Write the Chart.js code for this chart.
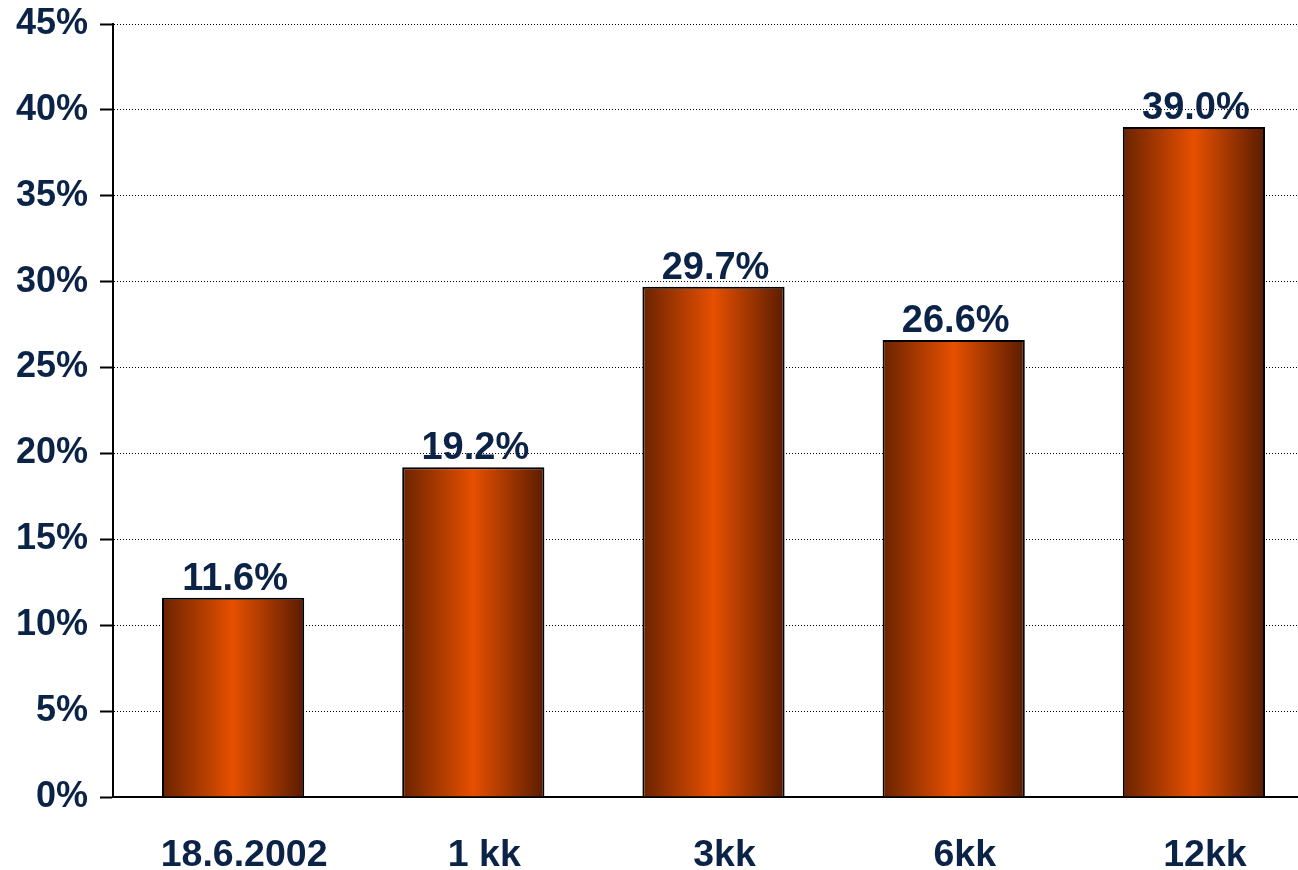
<!DOCTYPE html>
<html>
<head>
<meta charset="utf-8">
<script src="https://cdn.jsdelivr.net/npm/chart.js@4"></script>
<style>
  html, body { margin: 0; padding: 0; background: #fff; overflow: hidden; }
  #wrap { width: 1314px; height: 870px; }
</style>
</head>
<body>
<div id="wrap"><canvas id="c" width="1314" height="870"></canvas></div>
<script>
const categories = ['18.6.2002', '1 kk', '3kk', '6kk', '12kk'];
const values = [11.6, 19.2, 29.7, 26.6, 39.0];
const yTicks = [0, 5, 10, 15, 20, 25, 30, 35, 40, 45];

const NAVY = '#0b2346';
const FONT = "'Liberation Sans', Arial, sans-serif";
const BAR_PCT = 0.592;

function barGradient(ctx) {
  const chart = ctx.chart;
  const xs = chart.scales && chart.scales.x;
  if (!xs || !chart.chartArea) return '#e04e00';
  const cx = xs.getPixelForValue(ctx.dataIndex);
  const w = xs.width / categories.length * BAR_PCT;
  const g = chart.ctx.createLinearGradient(cx - w / 2, 0, cx + w / 2, 0);
  g.addColorStop(0, '#6a2300');
  g.addColorStop(0.5, '#e65000');
  g.addColorStop(1, '#5a1c00');
  return g;
}

const valueLabels = {
  id: 'valueLabels',
  afterDatasetsDraw(chart) {
    const c = chart.ctx;
    const meta = chart.getDatasetMeta(0);
    c.save();
    c.font = "bold 38px " + FONT;
    c.fillStyle = NAVY;
    c.textAlign = 'center';
    c.textBaseline = 'alphabetic';
    meta.data.forEach((bar, i) => {
      c.fillText(values[i].toFixed(1) + '%', bar.x + 2, bar.y - 8);
    });
    c.restore();
  }
};

new Chart(document.getElementById('c'), {
  type: 'bar',
  data: {
    labels: categories,
    datasets: [{
      data: values,
      backgroundColor: barGradient,
      borderColor: '#000',
      borderWidth: 2,
      barPercentage: BAR_PCT,
      categoryPercentage: 1
    }]
  },
  options: {
    responsive: false,
    animation: false,
    devicePixelRatio: 1,
    layout: { padding: { left: 0, top: 0, right: 0, bottom: 0 } },
    plugins: { legend: { display: false }, tooltip: { enabled: false } },
    scales: {
      x: {
        grid: { display: false, drawTicks: false },
        border: { display: true, color: '#000', width: 2 },
        afterFit(scale) { scale.height = 73; scale.paddingLeft = 0; scale.paddingRight = 0; },
        ticks: {
          color: NAVY,
          padding: 40,
          maxRotation: 0,
          labelOffset: 11,
          font: { family: FONT, size: 37.5, weight: 'bold', lineHeight: 1 }
        }
      },
      y: {
        min: 0,
        max: 45,
        afterBuildTicks(scale) { scale.ticks = yTicks.map(v => ({ value: v })); },
        afterFit(scale) { scale.width = 113; scale.paddingTop = 24; scale.paddingBottom = 0; },
        grid: {
          color: '#000',
          lineWidth: 1,
          drawTicks: true,
          tickLength: 13,
          tickWidth: 2,
          tickColor: '#000',
          tickBorderDash: []
        },
        border: { display: true, color: '#000', width: 2, dash: [1, 2] },
        ticks: {
          color: NAVY,
          padding: 12,
          font: { family: FONT, size: 36, weight: 'bold' },
          callback: (v) => v + '%'
        }
      }
    }
  },
  plugins: [valueLabels]
});
</script>
</body>
</html>
